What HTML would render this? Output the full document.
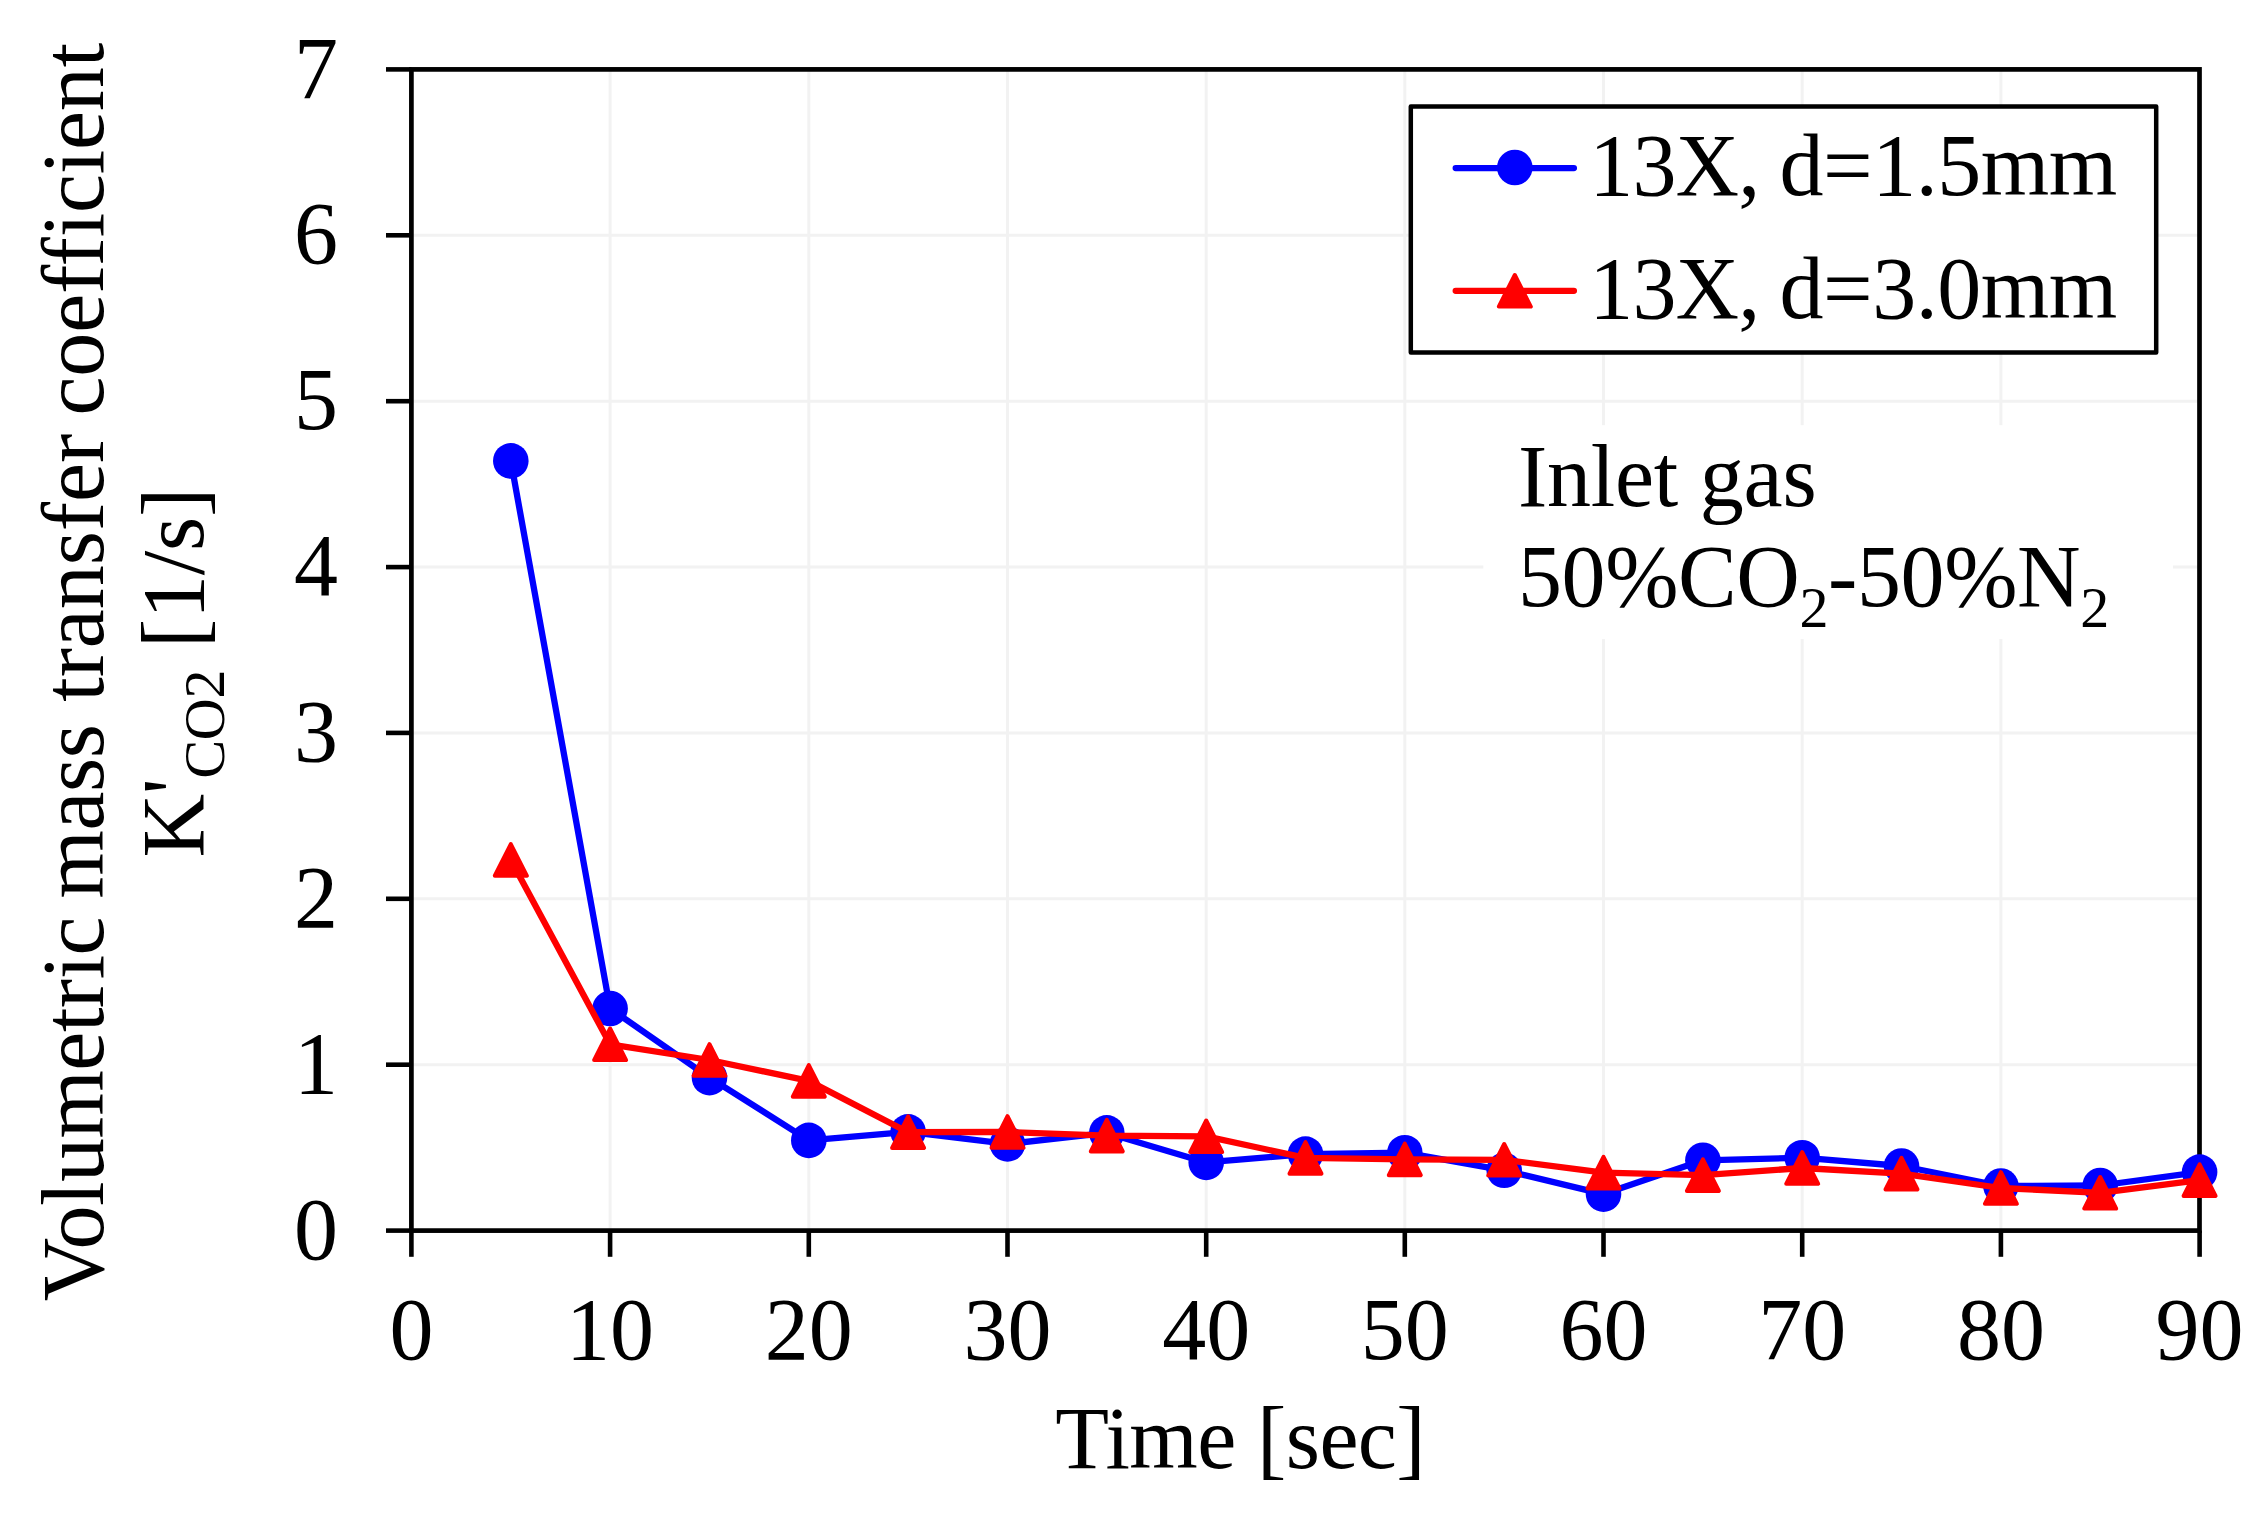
<!DOCTYPE html>
<html lang="en"><head><meta charset="utf-8"><title>Volumetric mass transfer coefficient vs time</title>
<style>html,body{margin:0;padding:0;background:#fff;}body{width:2268px;height:1516px;overflow:hidden;}svg{display:block;}text{font-family:"Liberation Serif","Times New Roman",serif;fill:#000;font-variant-ligatures:none;font-kerning:normal;}</style>
</head><body>
<svg width="2268" height="1516" viewBox="0 0 2268 1516">
<rect x="0" y="0" width="2268" height="1516" fill="#fff"/>
<g stroke="#f2f2f2" stroke-width="3" fill="none">
<line x1="411.4" y1="1064.7" x2="2199.6" y2="1064.7"/>
<line x1="411.4" y1="898.8" x2="2199.6" y2="898.8"/>
<line x1="411.4" y1="732.9" x2="2199.6" y2="732.9"/>
<line x1="411.4" y1="567.1" x2="2199.6" y2="567.1"/>
<line x1="411.4" y1="401.2" x2="2199.6" y2="401.2"/>
<line x1="411.4" y1="235.3" x2="2199.6" y2="235.3"/>
<line x1="610.1" y1="69.4" x2="610.1" y2="1230.6"/>
<line x1="808.8" y1="69.4" x2="808.8" y2="1230.6"/>
<line x1="1007.5" y1="69.4" x2="1007.5" y2="1230.6"/>
<line x1="1206.2" y1="69.4" x2="1206.2" y2="1230.6"/>
<line x1="1404.8" y1="69.4" x2="1404.8" y2="1230.6"/>
<line x1="1603.5" y1="69.4" x2="1603.5" y2="1230.6"/>
<line x1="1802.2" y1="69.4" x2="1802.2" y2="1230.6"/>
<line x1="2000.9" y1="69.4" x2="2000.9" y2="1230.6"/>
</g>
<rect x="1483.3" y="425.2" width="689.7" height="213.9" fill="#fff"/>
<rect x="411.4" y="69.4" width="1788.1" height="1161.2" fill="none" stroke="#000" stroke-width="4.7"/>
<g stroke="#000" stroke-width="4.6" fill="none">
<line x1="386" y1="1230.6" x2="411.4" y2="1230.6"/>
<line x1="386" y1="1064.7" x2="411.4" y2="1064.7"/>
<line x1="386" y1="898.8" x2="411.4" y2="898.8"/>
<line x1="386" y1="732.9" x2="411.4" y2="732.9"/>
<line x1="386" y1="567.1" x2="411.4" y2="567.1"/>
<line x1="386" y1="401.2" x2="411.4" y2="401.2"/>
<line x1="386" y1="235.3" x2="411.4" y2="235.3"/>
<line x1="386" y1="69.4" x2="411.4" y2="69.4"/>
<line x1="411.4" y1="1230.6" x2="411.4" y2="1256.8"/>
<line x1="610.1" y1="1230.6" x2="610.1" y2="1256.8"/>
<line x1="808.8" y1="1230.6" x2="808.8" y2="1256.8"/>
<line x1="1007.5" y1="1230.6" x2="1007.5" y2="1256.8"/>
<line x1="1206.2" y1="1230.6" x2="1206.2" y2="1256.8"/>
<line x1="1404.8" y1="1230.6" x2="1404.8" y2="1256.8"/>
<line x1="1603.5" y1="1230.6" x2="1603.5" y2="1256.8"/>
<line x1="1802.2" y1="1230.6" x2="1802.2" y2="1256.8"/>
<line x1="2000.9" y1="1230.6" x2="2000.9" y2="1256.8"/>
<line x1="2199.6" y1="1230.6" x2="2199.6" y2="1256.8"/>
</g>
<g font-size="88" text-anchor="end">
<text x="338" y="1258.6">0</text>
<text x="338" y="1092.7">1</text>
<text x="338" y="926.8">2</text>
<text x="338" y="760.9">3</text>
<text x="338" y="595.1">4</text>
<text x="338" y="429.2">5</text>
<text x="338" y="263.3">6</text>
<text x="338" y="98.2">7</text>
</g>
<g font-size="88" text-anchor="middle">
<text x="411.4" y="1359.2">0</text>
<text x="610.1" y="1359.2">10</text>
<text x="808.8" y="1359.2">20</text>
<text x="1007.5" y="1359.2">30</text>
<text x="1206.2" y="1359.2">40</text>
<text x="1404.8" y="1359.2">50</text>
<text x="1603.5" y="1359.2">60</text>
<text x="1802.2" y="1359.2">70</text>
<text x="2000.9" y="1359.2">80</text>
<text x="2199.6" y="1359.2">90</text>
</g>
<text x="1240.2" y="1467.7" font-size="88" text-anchor="middle" letter-spacing="-0.59">Time [sec]</text>
<text transform="translate(103.2 0) rotate(-90)" font-size="88"><tspan x="-1301.2" letter-spacing="-0.51">Volumetric </tspan><tspan x="-898.5" letter-spacing="-0.5">mass </tspan><tspan x="-701.7" letter-spacing="-0.1">transfer </tspan><tspan x="-415.5" letter-spacing="-0.2">coefficient</tspan></text>
<text transform="translate(203.1 857.5) rotate(-90)" font-size="88" text-anchor="start" letter-spacing="-0.25">K'<tspan font-size="58" dy="21.3">CO2</tspan><tspan dy="-21.3"> [1/s]</tspan></text>
<polyline points="510.8,460.9 610.1,1008.5 709.5,1077.6 808.8,1140.4 908.1,1131.9 1007.5,1143.9 1106.8,1132.9 1206.2,1162.4 1305.5,1154.1 1404.8,1152.7 1504.2,1170.3 1603.5,1194.1 1702.9,1160.3 1802.2,1157.7 1901.5,1166.0 2000.9,1186.0 2100.2,1185.5 2199.6,1172.1" fill="none" stroke="#0000ff" stroke-width="6.3" stroke-linejoin="round" stroke-linecap="round"/>
<circle cx="510.8" cy="460.9" r="17.8" fill="#0000ff"/>
<circle cx="610.1" cy="1008.5" r="17.8" fill="#0000ff"/>
<circle cx="709.5" cy="1077.6" r="17.8" fill="#0000ff"/>
<circle cx="808.8" cy="1140.4" r="17.8" fill="#0000ff"/>
<circle cx="908.1" cy="1131.9" r="17.8" fill="#0000ff"/>
<circle cx="1007.5" cy="1143.9" r="17.8" fill="#0000ff"/>
<circle cx="1106.8" cy="1132.9" r="17.8" fill="#0000ff"/>
<circle cx="1206.2" cy="1162.4" r="17.8" fill="#0000ff"/>
<circle cx="1305.5" cy="1154.1" r="17.8" fill="#0000ff"/>
<circle cx="1404.8" cy="1152.7" r="17.8" fill="#0000ff"/>
<circle cx="1504.2" cy="1170.3" r="17.8" fill="#0000ff"/>
<circle cx="1603.5" cy="1194.1" r="17.8" fill="#0000ff"/>
<circle cx="1702.9" cy="1160.3" r="17.8" fill="#0000ff"/>
<circle cx="1802.2" cy="1157.7" r="17.8" fill="#0000ff"/>
<circle cx="1901.5" cy="1166.0" r="17.8" fill="#0000ff"/>
<circle cx="2000.9" cy="1186.0" r="17.8" fill="#0000ff"/>
<circle cx="2100.2" cy="1185.5" r="17.8" fill="#0000ff"/>
<circle cx="2199.6" cy="1172.1" r="17.8" fill="#0000ff"/>
<polyline points="510.8,859.9 610.1,1044.3 709.5,1060.0 808.8,1080.9 908.1,1132.2 1007.5,1132.0 1106.8,1135.6 1206.2,1136.3 1305.5,1157.9 1404.8,1159.4 1504.2,1159.8 1603.5,1172.6 1702.9,1175.1 1802.2,1168.0 1901.5,1173.7 2000.9,1188.0 2100.2,1192.8 2199.6,1180.2" fill="none" stroke="#ff0000" stroke-width="6.3" stroke-linejoin="round" stroke-linecap="round"/>
<polygon points="510.8,844.1 526.8,875.7 494.8,875.7" fill="#ff0000" stroke="#ff0000" stroke-width="4" stroke-linejoin="round"/>
<polygon points="610.1,1028.5 626.1,1060.1 594.1,1060.1" fill="#ff0000" stroke="#ff0000" stroke-width="4" stroke-linejoin="round"/>
<polygon points="709.5,1044.2 725.5,1075.8 693.5,1075.8" fill="#ff0000" stroke="#ff0000" stroke-width="4" stroke-linejoin="round"/>
<polygon points="808.8,1065.1 824.8,1096.7 792.8,1096.7" fill="#ff0000" stroke="#ff0000" stroke-width="4" stroke-linejoin="round"/>
<polygon points="908.1,1116.4 924.1,1148.0 892.1,1148.0" fill="#ff0000" stroke="#ff0000" stroke-width="4" stroke-linejoin="round"/>
<polygon points="1007.5,1116.2 1023.5,1147.8 991.5,1147.8" fill="#ff0000" stroke="#ff0000" stroke-width="4" stroke-linejoin="round"/>
<polygon points="1106.8,1119.8 1122.8,1151.4 1090.8,1151.4" fill="#ff0000" stroke="#ff0000" stroke-width="4" stroke-linejoin="round"/>
<polygon points="1206.2,1120.5 1222.2,1152.1 1190.2,1152.1" fill="#ff0000" stroke="#ff0000" stroke-width="4" stroke-linejoin="round"/>
<polygon points="1305.5,1142.1 1321.5,1173.7 1289.5,1173.7" fill="#ff0000" stroke="#ff0000" stroke-width="4" stroke-linejoin="round"/>
<polygon points="1404.8,1143.6 1420.8,1175.2 1388.8,1175.2" fill="#ff0000" stroke="#ff0000" stroke-width="4" stroke-linejoin="round"/>
<polygon points="1504.2,1144.0 1520.2,1175.6 1488.2,1175.6" fill="#ff0000" stroke="#ff0000" stroke-width="4" stroke-linejoin="round"/>
<polygon points="1603.5,1156.8 1619.5,1188.4 1587.5,1188.4" fill="#ff0000" stroke="#ff0000" stroke-width="4" stroke-linejoin="round"/>
<polygon points="1702.9,1159.3 1718.9,1190.9 1686.9,1190.9" fill="#ff0000" stroke="#ff0000" stroke-width="4" stroke-linejoin="round"/>
<polygon points="1802.2,1152.2 1818.2,1183.8 1786.2,1183.8" fill="#ff0000" stroke="#ff0000" stroke-width="4" stroke-linejoin="round"/>
<polygon points="1901.5,1157.9 1917.5,1189.5 1885.5,1189.5" fill="#ff0000" stroke="#ff0000" stroke-width="4" stroke-linejoin="round"/>
<polygon points="2000.9,1172.2 2016.9,1203.8 1984.9,1203.8" fill="#ff0000" stroke="#ff0000" stroke-width="4" stroke-linejoin="round"/>
<polygon points="2100.2,1177.0 2116.2,1208.6 2084.2,1208.6" fill="#ff0000" stroke="#ff0000" stroke-width="4" stroke-linejoin="round"/>
<polygon points="2199.6,1164.4 2215.6,1196.0 2183.6,1196.0" fill="#ff0000" stroke="#ff0000" stroke-width="4" stroke-linejoin="round"/>
<rect x="1410.8" y="106.5" width="745.4" height="246" fill="#fff" stroke="#000" stroke-width="4.5" stroke-linejoin="round"/>
<line x1="1455.7" y1="168.1" x2="1573.9" y2="168.1" stroke="#0000ff" stroke-width="6.3" stroke-linecap="round"/>
<circle cx="1514.8" cy="167.5" r="17.8" fill="#0000ff"/>
<line x1="1455.7" y1="290.8" x2="1573.9" y2="290.8" stroke="#ff0000" stroke-width="6.3" stroke-linecap="round"/>
<polygon points="1514.8,275 1530.8,306.6 1498.8,306.6" fill="#ff0000" stroke="#ff0000" stroke-width="4" stroke-linejoin="round"/>
<text y="195.1" font-size="88"><tspan x="1589.3" letter-spacing="-0.87">13X, </tspan><tspan x="1779.5" letter-spacing="-0.47">d=1.5mm</tspan></text>
<text y="318.1" font-size="88"><tspan x="1589.3" letter-spacing="-0.87">13X, </tspan><tspan x="1779.5" letter-spacing="-0.47">d=3.0mm</tspan></text>
<text x="1518" y="505.8" font-size="88" letter-spacing="-0.24">Inlet gas</text>
<text x="1518" y="606.3" font-size="88" letter-spacing="-0.41">50%CO<tspan font-size="58" dy="20.5">2</tspan><tspan dy="-20.5">-50%N</tspan><tspan font-size="58" dy="20.5">2</tspan></text>
</svg>
</body></html>
